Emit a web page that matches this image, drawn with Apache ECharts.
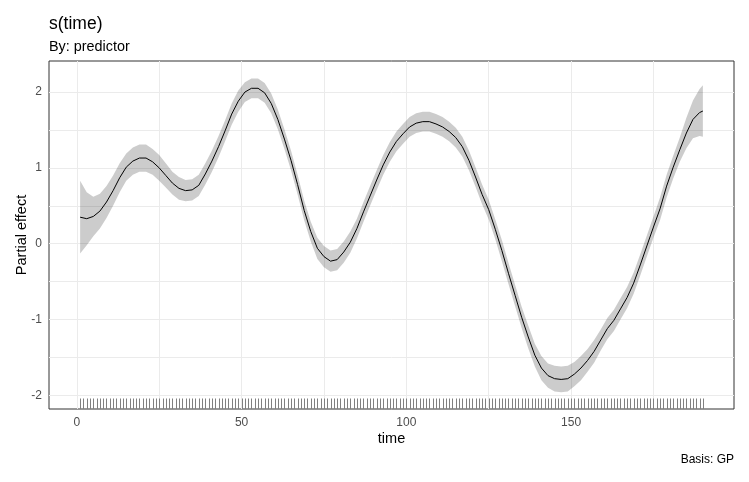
<!DOCTYPE html>
<html>
<head>
<meta charset="utf-8">
<script src="https://cdn.jsdelivr.net/npm/echarts@6/dist/echarts.min.js"></script>
<style>
  html, body { margin: 0; padding: 0; background: #fff; }
  #chart { width: 749px; height: 482px; }
</style>
</head>
<body>
<div id="chart"></div>
<script>
// smooth estimate
var time = [1, 3, 5, 7, 9, 11, 13, 15, 17, 19, 21, 23, 25, 27, 29, 31, 33, 35, 37, 39,
  41, 43, 45, 47, 49, 51, 53, 55, 57, 59, 61, 63, 65, 67, 69, 71, 73, 75, 77, 79,
  81, 83, 85, 87, 89, 91, 93, 95, 97, 99, 101, 103, 105, 107, 109, 111, 113, 115, 117, 119,
  121, 123, 125, 127, 129, 131, 133, 135, 137, 139, 141, 143, 145, 147, 149, 151, 153, 155, 157, 159,
  161, 163, 165, 167, 169, 171, 173, 175, 177, 179, 181, 183, 185, 187, 189, 190];

var fit = [0.35, 0.33, 0.36, 0.43, 0.55, 0.70, 0.87, 1.01, 1.09, 1.13, 1.13, 1.08, 1.00, 0.90, 0.80, 0.73, 0.70, 0.71, 0.77, 0.92,
  1.09, 1.28, 1.49, 1.71, 1.88, 2.00, 2.05, 2.05, 1.99, 1.85, 1.64, 1.38, 1.10, 0.78, 0.44, 0.16, -0.06, -0.17, -0.23, -0.21,
  -0.11, 0.02, 0.20, 0.42, 0.63, 0.84, 1.04, 1.21, 1.35, 1.45, 1.54, 1.59, 1.61, 1.61, 1.58, 1.54, 1.48, 1.40, 1.28, 1.10,
  0.88, 0.65, 0.45, 0.19, -0.09, -0.39, -0.68, -0.97, -1.23, -1.47, -1.64, -1.74, -1.78, -1.79, -1.78, -1.72, -1.64, -1.54, -1.42, -1.27,
  -1.12, -1.01, -0.86, -0.71, -0.52, -0.28, -0.03, 0.22, 0.46, 0.76, 1.01, 1.24, 1.46, 1.64, 1.73, 1.75];

var lower = [-0.13, -0.02, 0.10, 0.20, 0.34, 0.50, 0.68, 0.83, 0.91, 0.95, 0.95, 0.91, 0.83, 0.74, 0.65, 0.58, 0.56, 0.57, 0.63, 0.78,
  0.95, 1.14, 1.35, 1.57, 1.74, 1.87, 1.92, 1.92, 1.86, 1.72, 1.51, 1.25, 0.97, 0.65, 0.31, 0.03, -0.20, -0.31, -0.37, -0.35,
  -0.25, -0.12, 0.07, 0.29, 0.50, 0.71, 0.91, 1.08, 1.22, 1.32, 1.41, 1.46, 1.48, 1.48, 1.45, 1.41, 1.35, 1.27, 1.15, 0.97,
  0.75, 0.52, 0.32, 0.06, -0.23, -0.53, -0.82, -1.11, -1.38, -1.62, -1.80, -1.90, -1.95, -1.96, -1.95, -1.88, -1.80, -1.69, -1.57, -1.41,
  -1.26, -1.15, -1.00, -0.85, -0.66, -0.42, -0.17, 0.08, 0.31, 0.61, 0.86, 1.08, 1.26, 1.39, 1.42, 1.41];

var upper = [0.83, 0.68, 0.62, 0.66, 0.76, 0.90, 1.06, 1.19, 1.27, 1.31, 1.31, 1.25, 1.17, 1.06, 0.95, 0.88, 0.84, 0.85, 0.91, 1.06,
  1.23, 1.42, 1.63, 1.85, 2.02, 2.13, 2.18, 2.18, 2.12, 1.98, 1.77, 1.51, 1.23, 0.91, 0.57, 0.29, 0.08, -0.03, -0.09, -0.07,
  0.03, 0.16, 0.33, 0.55, 0.76, 0.97, 1.17, 1.34, 1.48, 1.58, 1.67, 1.72, 1.74, 1.74, 1.71, 1.67, 1.61, 1.53, 1.41, 1.23,
  1.01, 0.78, 0.58, 0.32, 0.05, -0.25, -0.54, -0.83, -1.08, -1.32, -1.48, -1.58, -1.61, -1.62, -1.61, -1.56, -1.48, -1.39, -1.27, -1.13,
  -0.98, -0.87, -0.72, -0.57, -0.38, -0.14, 0.11, 0.36, 0.61, 0.91, 1.16, 1.40, 1.66, 1.89, 2.04, 2.09];

// observed times (rug)
var rugTimes = [1, 2, 3, 4, 5, 6, 7, 8, 9, 10, 11, 12, 13, 14, 15, 16, 17, 18, 19, 20,
  21, 22, 23, 24, 25, 26, 27, 28, 29, 30, 31, 32, 33, 34, 35, 36, 37, 38, 39, 40,
  41, 42, 43, 44, 45, 46, 47, 48, 49, 50, 51, 52, 53, 54, 55, 56, 57, 58, 59, 60,
  61, 62, 63, 64, 65, 66, 67, 68, 69, 70, 71, 72, 73, 74, 75, 76, 77, 78, 79, 80,
  81, 82, 83, 84, 85, 86, 87, 88, 89, 90, 91, 92, 93, 94, 95, 96, 97, 98, 99, 100,
  101, 102, 103, 104, 105, 106, 107, 108, 109, 110, 111, 112, 113, 114, 115, 116, 117, 118, 119, 120,
  121, 122, 123, 124, 125, 126, 127, 128, 129, 130, 131, 132, 133, 134, 135, 136, 137, 138, 139, 140,
  141, 142, 143, 144, 145, 146, 147, 148, 149, 150, 151, 152, 153, 154, 155, 156, 157, 158, 159, 160,
  161, 162, 163, 164, 165, 166, 167, 168, 169, 170, 171, 172, 173, 174, 175, 176, 177, 178, 179, 180,
  181, 182, 183, 184, 185, 186, 187, 188, 189, 190];

// axis ticks
var xTicks = [0, 50, 100, 150];
var xMinor = [25, 75, 125, 175];
var yTicks = [-2, -1, 0, 1, 2];
var yMinor = [-1.5, -0.5, 0.5, 1.5];

var xMin = -8.45, xMax = 199.45;
var yMin = -2.18, yMax = 2.41;

var font = '"Liberation Sans", Arial, sans-serif';
var chart = echarts.init(document.getElementById('chart'));

var gridLines = []
  .concat(xTicks, xMinor).map(function (v) { return { xAxis: v }; })
  .concat([].concat(yTicks, yMinor).map(function (v) { return { yAxis: v }; }));

var option = {
  backgroundColor: '#fff',
  animation: false,
  textStyle: { fontFamily: font },
  title: [
    { text: 's(time)', left: 49, top: 15, padding: 0,
      textStyle: { fontFamily: font, fontSize: 17.5, fontWeight: 'normal', color: '#000' } },
    { text: 'By: predictor', left: 49, top: 40, padding: 0,
      textStyle: { fontFamily: font, fontSize: 14.4, fontWeight: 'normal', color: '#000' } },
    { text: 'Basis: GP', right: 15, top: 454, padding: 0,
      textStyle: { fontFamily: font, fontSize: 12, fontWeight: 'normal', color: '#000' } }
  ],
  grid: {
    left: 49, right: 15, top: 61, bottom: 73,
    show: true, borderColor: '#333333', borderWidth: 1, backgroundColor: '#fff',
    containLabel: false, outerBoundsMode: 'none'
  },
  xAxis: {
    type: 'value', min: xMin, max: xMax,
    name: 'time', nameLocation: 'middle', nameGap: 22, nameMoveOverlap: false,
    nameTextStyle: { fontFamily: font, fontSize: 14.5, color: '#000' },
    axisLine: { show: false },
    splitLine: { show: false },
    axisTick: { show: true, customValues: xTicks, length: 4, lineStyle: { color: '#333333' } },
    axisLabel: { customValues: xTicks, margin: 8, fontFamily: font, fontSize: 12, color: '#4D4D4D' }
  },
  yAxis: {
    type: 'value', min: yMin, max: yMax,
    name: 'Partial effect', nameLocation: 'middle', nameGap: 20, nameMoveOverlap: false,
    nameTextStyle: { fontFamily: font, fontSize: 14.5, color: '#000' },
    axisLine: { show: false },
    splitLine: { show: false },
    axisTick: { show: true, customValues: yTicks, length: 4, lineStyle: { color: '#333333' } },
    axisLabel: { customValues: yTicks, margin: 7, fontFamily: font, fontSize: 12, color: '#4D4D4D' }
  },
  series: [
    {
      // carrier for the panel grid lines
      type: 'line', z: 1, silent: true, showSymbol: false,
      data: time.map(function (t, i) { return [t, fit[i]]; }),
      lineStyle: { opacity: 0 },
      markLine: {
        z: 1, silent: true, symbol: ['none', 'none'], label: { show: false },
        lineStyle: { color: '#EBEBEB', type: 'solid', width: 1 },
        data: gridLines
      }
    },
    {
      // confidence band
      type: 'custom', z: 2, silent: true,
      data: time.map(function (t, i) { return [t, lower[i], upper[i]]; }),
      renderItem: function (params, api) {
        if (params.dataIndex !== 0) return null;
        var pts = [];
        for (var i = 0; i < time.length; i++) pts.push(api.coord([time[i], upper[i]]));
        for (var j = time.length - 1; j >= 0; j--) pts.push(api.coord([time[j], lower[j]]));
        return { type: 'polygon', shape: { points: pts }, style: { fill: 'rgba(0,0,0,0.2)' } };
      }
    },
    {
      type: 'line', z: 3, silent: true, showSymbol: false,
      data: time.map(function (t, i) { return [t, fit[i]]; }),
      lineStyle: { color: '#000', width: 1 }
    },
    {
      // rug of observed times
      type: 'custom', z: 3, silent: true,
      data: rugTimes.map(function (t) { return [t]; }),
      renderItem: function (params, api) {
        var p = api.coord([api.value(0), yMin]);
        var x = Math.round(p[0]) + 0.5;
        return {
          type: 'line',
          shape: { x1: x, y1: p[1], x2: x, y2: p[1] - 10.5 },
          style: { stroke: '#808080', lineWidth: 1 }
        };
      }
    }
  ]
};

chart.setOption(option);
</script>
</body>
</html>
